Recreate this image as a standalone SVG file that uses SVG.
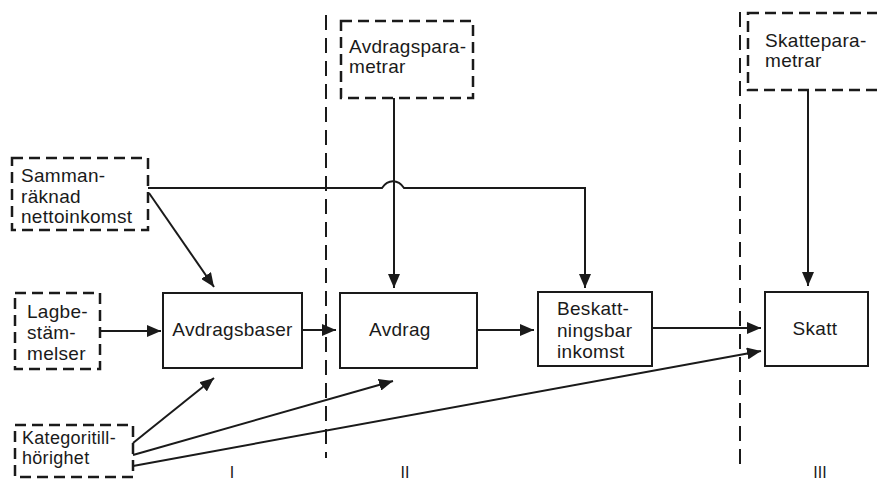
<svg xmlns="http://www.w3.org/2000/svg" width="877" height="483" viewBox="0 0 877 483">
<style>
text{font-family:"Liberation Sans",Arial,sans-serif;font-size:19px;fill:#1a1a1a;letter-spacing:0.3px}
.dbox{fill:none;stroke:#1a1a1a;stroke-width:2.5;stroke-dasharray:11 6}
.box{fill:#fff;stroke:#1a1a1a;stroke-width:2}
.sep{fill:none;stroke:#1a1a1a;stroke-width:2;stroke-dasharray:15 8}
.con{fill:none;stroke:#1a1a1a;stroke-width:2}
.arr{marker-end:url(#ah)}
.lbl{font-size:16px;letter-spacing:0}
.sm{font-size:18px}
</style>
<defs>
<marker id="ah" viewBox="0 0 14 12" refX="14" refY="6" markerWidth="14" markerHeight="12" markerUnits="userSpaceOnUse" orient="auto">
<path d="M0,0 L14,6 L0,12 z" fill="#1a1a1a"/>
</marker>
</defs>
<rect width="877" height="483" fill="#fff"/>
<g id="separators">
<line class="sep" x1="326" y1="15" x2="326" y2="458"/>
<line class="sep" x1="740" y1="12" x2="740" y2="468"/>
</g>
<g id="connectors">
<path class="con arr" d="M148,188 H382 C388,179 398,179 404,188 H585 V288"/>
<path class="con arr" d="M394,98 V288"/>
<path class="con arr" d="M149,193 L214,287"/>
<path class="con arr" d="M100,331 H161"/>
<path class="con arr" d="M302,330 H336"/>
<path class="con arr" d="M477,330 H534"/>
<path class="con arr" d="M652,328 H761"/>
<path class="con arr" d="M808,90 V286"/>
<path class="con arr" d="M133,443 L214,378"/>
<path class="con arr" d="M133,455 L393,381"/>
<path class="con arr" d="M133,466 L761,351"/>
</g>
<g id="sammanraknad">
<rect class="dbox" x="12" y="158" width="136" height="72"/>
<text x="21" y="182">Samman-</text>
<text x="21" y="203">räknad</text>
<text x="21" y="223">nettoinkomst</text>
</g>
<g id="lagbestammelser">
<rect class="dbox" x="15" y="293" width="85" height="76"/>
<text x="27" y="318">Lagbe-</text>
<text x="27" y="339">stäm-</text>
<text x="27" y="360">melser</text>
</g>
<g id="kategoritillhorighet">
<rect class="dbox" x="15" y="425" width="118" height="52"/>
<text class="sm" x="22" y="444">Kategoritill-</text>
<text class="sm" x="22" y="464">hörighet</text>
</g>
<g id="avdragsparametrar">
<rect class="dbox" x="341" y="21" width="132" height="77"/>
<text x="349" y="53">Avdragspara-</text>
<text x="349" y="73">metrar</text>
</g>
<g id="skatteparametrar">
<rect class="dbox" x="748" y="13" width="145" height="77"/>
<text x="765" y="47">Skattepara-</text>
<text x="765" y="67">metrar</text>
</g>
<g id="avdragsbaser">
<rect class="box" x="163" y="293" width="139" height="75"/>
<text x="232.5" y="336" text-anchor="middle">Avdragsbaser</text>
</g>
<g id="avdrag">
<rect class="box" x="340" y="293" width="137" height="75"/>
<text x="369" y="336">Avdrag</text>
</g>
<g id="beskattningsbar">
<rect class="box" x="538" y="292" width="114" height="74"/>
<text x="557" y="315">Beskatt-</text>
<text x="557" y="337">ningsbar</text>
<text x="557" y="358">inkomst</text>
</g>
<g id="skatt">
<rect class="box" x="765" y="292" width="103" height="74"/>
<text x="815" y="335" text-anchor="middle">Skatt</text>
</g>
<g id="labels">
<text class="lbl" x="232" y="478" text-anchor="middle">I</text>
<text class="lbl" x="405" y="478" text-anchor="middle">II</text>
<text class="lbl" x="820" y="478" text-anchor="middle">III</text>
</g>
</svg>
